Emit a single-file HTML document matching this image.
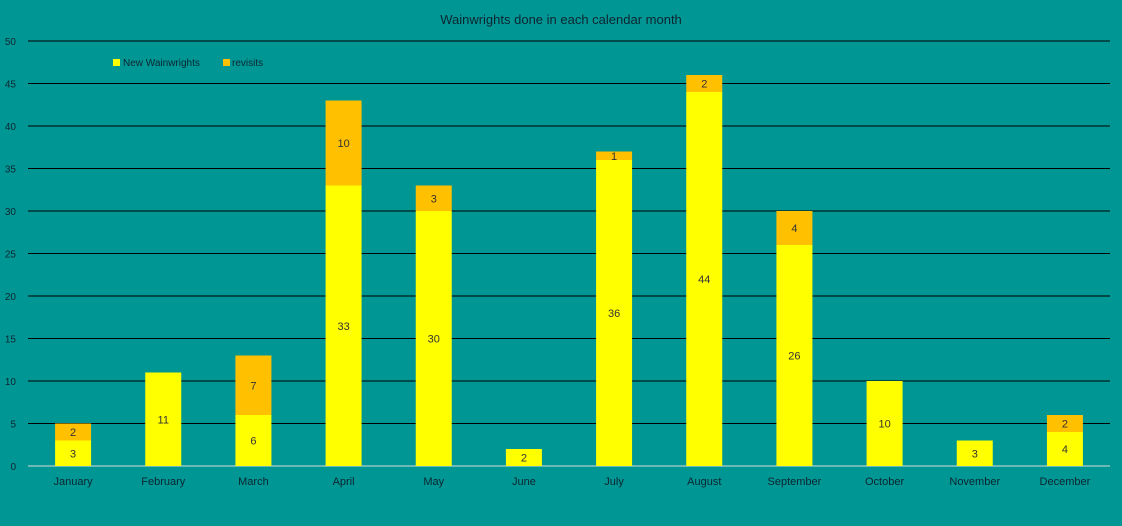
<!DOCTYPE html>
<html><head><meta charset="utf-8"><style>
body{margin:0;background:#009694;}
svg{display:block;font-family:"Liberation Sans",sans-serif;}
</style></head><body>
<svg id="c" width="1122" height="526">
<rect width="1122" height="526" fill="#009694"/>
<text x="561" y="24" text-anchor="middle" font-size="13" fill="#0d2530">Wainwrights done in each calendar month</text>
<g>
<rect x="113" y="59" width="7" height="7" fill="#ffff00"/>
<text x="123" y="66" font-size="10" fill="#0d2530">New Wainwrights</text>
<rect x="223" y="59" width="7" height="7" fill="#ffc000"/>
<text x="232" y="66" font-size="10" fill="#0d2530">revisits</text>
</g>
<g id="grid"></g><g id="bars"></g>
</svg>
<script>
const months=["January","February","March","April","May","June","July","August","September","October","November","December"];
const newW=[3,11,6,33,30,2,36,44,26,10,3,4];
const revisits=[2,0,7,10,3,0,1,2,4,0,0,2];
const yTicks=[0,5,10,15,20,25,30,35,40,45,50];
const NS="http://www.w3.org/2000/svg";
const x0=28,x1=1110,yBase=466,yTop=41,yMax=50;
const y=v=>yBase-(v/yMax)*(yBase-yTop);
const band=(x1-x0)/months.length;
const xc=i=>x0+band*(i+0.5);
const bw=36;
function mk(t,a,p){const e=document.createElementNS(NS,t);for(const k in a)e.setAttribute(k,a[k]);p.appendChild(e);return e;}
const g=document.getElementById('grid'),b=document.getElementById('bars');
yTicks.forEach(v=>{
 const l=mk('line',{x1:x0,x2:x1,y1:y(v),y2:y(v),stroke:v===0?'#d9d9d9':'#000','stroke-width':1},g);
 
 
 const t=mk('text',{x:16,y:y(v)+4,'text-anchor':'end','font-size':10,fill:'#0d2530'},g);
 t.textContent=v;
 
 
});
months.forEach((m,i)=>{
 const cx=xc(i);
 const r1=mk('rect',{x:cx-bw/2,y:y(newW[i]),width:bw,height:y(0)-y(newW[i]),fill:'#ffff00'},b);
 
 
 const t1=mk('text',{x:cx,y:(y(0)+y(newW[i]))/2+4,'text-anchor':'middle','font-size':11,fill:'#333'},b);
 t1.textContent=newW[i];
 
 
 if(revisits[i]>0){
  const top=newW[i]+revisits[i];
  const r2=mk('rect',{x:cx-bw/2,y:y(top),width:bw,height:y(newW[i])-y(top),fill:'#ffc000'},b);
  
  
  const t2=mk('text',{x:cx,y:(y(top)+y(newW[i]))/2+4,'text-anchor':'middle','font-size':11,fill:'#333'},b);
  t2.textContent=revisits[i];
  
  
 }
 const xl=mk('text',{x:cx,y:485,'text-anchor':'middle','font-size':11,fill:'#0d2530'},b);
 xl.textContent=m;
 
 
});
</script>
</body></html>
